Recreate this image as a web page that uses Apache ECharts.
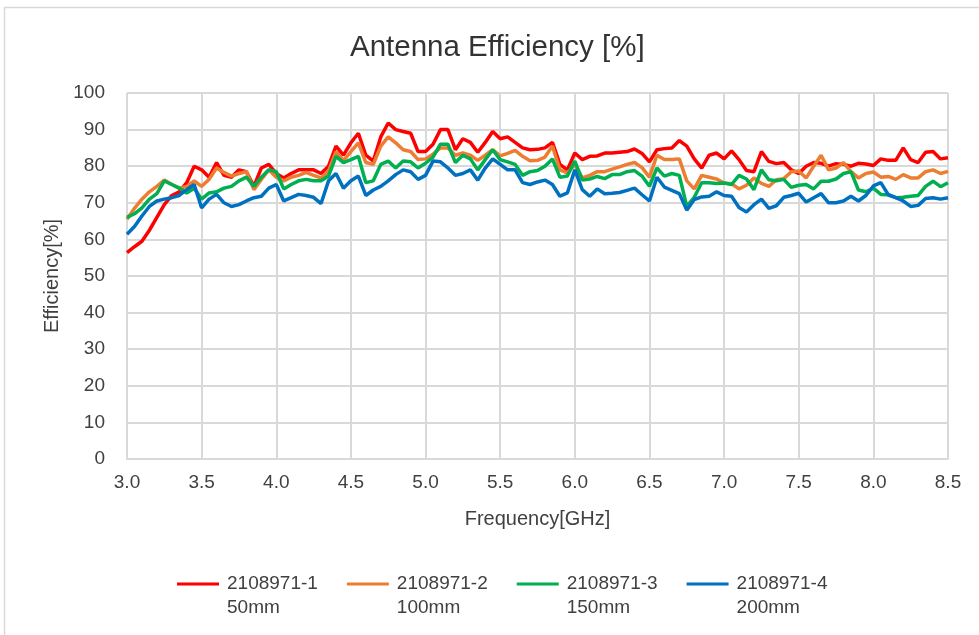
<!DOCTYPE html>
<html>
<head>
<meta charset="utf-8">
<script src="https://cdn.jsdelivr.net/npm/echarts@6/dist/echarts.min.js"></script>
<style>
  html, body { margin: 0; padding: 0; background: #fff; }
  #chart { width: 979px; height: 635px; }
</style>
</head>
<body>
<div id="chart"></div>
<script>
// frequency grid [GHz]
const freq = [
  3.00, 3.05, 3.10, 3.15, 3.20, 3.25, 3.30, 3.35, 3.40, 3.45,
  3.50, 3.55, 3.60, 3.65, 3.70, 3.75, 3.80, 3.85, 3.90, 3.95,
  4.00, 4.05, 4.10, 4.15, 4.20, 4.25, 4.30, 4.35, 4.40, 4.45,
  4.50, 4.55, 4.60, 4.65, 4.70, 4.75, 4.80, 4.85, 4.90, 4.95,
  5.00, 5.05, 5.10, 5.15, 5.20, 5.25, 5.30, 5.35, 5.40, 5.45,
  5.50, 5.55, 5.60, 5.65, 5.70, 5.75, 5.80, 5.85, 5.90, 5.95,
  6.00, 6.05, 6.10, 6.15, 6.20, 6.25, 6.30, 6.35, 6.40, 6.45,
  6.50, 6.55, 6.60, 6.65, 6.70, 6.75, 6.80, 6.85, 6.90, 6.95,
  7.00, 7.05, 7.10, 7.15, 7.20, 7.25, 7.30, 7.35, 7.40, 7.45,
  7.50, 7.55, 7.60, 7.65, 7.70, 7.75, 7.80, 7.85, 7.90, 7.95,
  8.00, 8.05, 8.10, 8.15, 8.20, 8.25, 8.30, 8.35, 8.40, 8.45,
  8.50
];

// efficiency [%], one array per sample
const eff50 = [
  56.4, 58, 59.5, 62.5, 66, 69.5, 72, 73, 75.5, 80,
  79, 77, 81, 77.5, 77, 79, 78.5, 74.5, 79.5, 80.5,
  78, 76.8, 78, 79, 79, 79, 78, 80, 85.5, 83,
  86.4, 89, 83, 81.4, 88, 91.8, 90, 89.5, 89, 84,
  84, 86, 90, 90, 84.5, 87.5, 86.5, 83.8, 86.5, 89.5,
  87.5, 88, 86.5, 85, 84.5, 84.6, 85, 86.5, 80.5, 79,
  83.6, 81.8, 82.7, 82.8, 83.6, 83.6, 83.8, 84, 84.7, 83.5,
  81.2, 84.5, 84.8, 85, 87, 85.5, 82, 79.5, 83, 83.6,
  82, 84.2, 81.8, 78.8, 78.5, 84, 81.3, 80.7, 81, 79,
  78, 80, 81, 80.8, 80, 80.7, 80.5, 80, 80.8, 80.6,
  80.2, 82, 81.6, 81.6, 85, 81.8, 81, 83.8, 84, 82,
  82.3
];
const eff100 = [
  65.5, 68.5, 71, 73, 74.5, 76.2, 75, 74, 74.5, 76,
  74.5, 76.4, 79.5, 78.3, 77.3, 78, 78.5, 73.6, 76.4, 79,
  77, 76, 77, 77.5, 78.3, 77.5, 76.8, 78.6, 84, 81.5,
  84, 86.4, 81, 80.5, 85.5, 88, 86.4, 84.5, 84, 81.8,
  82, 83.3, 85, 85, 83, 83.6, 83, 81.6, 83, 84.5,
  82.8, 83.5, 84.3, 82.7, 81.5, 81.6, 82.5, 85.5, 79, 78.2,
  80.5, 76.8, 77.5, 78.5, 78.5, 79.2, 79.8, 80.5, 81, 79.6,
  77, 83, 81.8, 81.8, 82, 76, 73.8, 77.5, 77, 76.5,
  75.4, 75.2, 73.8, 74.8, 76.8, 75.3, 74.5, 76.3, 76.6, 78.5,
  78.7, 76.8, 80, 83, 79, 79.5, 81, 78.5, 76.8, 78,
  78.4, 77, 77.2, 76.4, 77.7, 76.8, 76.8, 78.5, 79, 78,
  78.6
];
const eff150 = [
  66, 67, 68.6, 71, 72.5, 76, 75, 74, 72.7, 74,
  71, 72.7, 73, 74, 74.5, 76, 77, 74.5, 77, 79,
  78.5, 73.8, 75, 76, 76.4, 76, 76, 77.3, 82.7, 81,
  81.8, 82.7, 75.5, 76, 80.5, 81.4, 79.5, 81.4, 81.2, 79.5,
  80.8, 82.5, 86, 86, 81, 83, 82, 79, 81.8, 84.5,
  81.8, 81.2, 80.5, 77.5, 78.5, 78.8, 80, 82, 77, 77.3,
  81.4, 76.2, 76.5, 77.2, 76.6, 77.7, 77.7, 78.5, 78.8, 77.3,
  74.5, 79.5, 77.3, 78, 77.5, 69, 71.5, 75.5, 75.5, 75.3,
  75.4, 75, 77.5, 76.5, 73.6, 79, 76.3, 76, 76.4, 74.2,
  74.8, 75, 73.8, 75.9, 75.9, 76.5, 78, 78.5, 73.5, 73,
  74, 72.3, 72.2, 71.4, 71.5, 71.8, 72, 74.5, 75.9, 74.4,
  75.5
];
const eff200 = [
  61.4, 63.5, 66.4, 69, 70.5, 71, 71.4, 72, 73.6, 75,
  68.6, 71, 72.3, 70, 69, 69.5, 70.5, 71.4, 71.8, 74,
  75, 70.5, 71.4, 72.3, 72, 71.5, 69.8, 76, 78, 74,
  76, 77.3, 72, 73.5, 74.5, 76, 77.7, 79, 78.5, 76.4,
  77.5, 81.4, 81.2, 79.5, 77.5, 78, 79, 76.2, 79.5, 82,
  80.5, 79, 79, 75.5, 75, 75.7, 76.2, 75, 71.8, 72.7,
  79, 73.6, 71.8, 73.8, 72.5, 72.6, 72.8, 73.4, 74, 72.2,
  70.5, 77, 74.3, 73.4, 72.5, 68, 70.9, 71.6, 71.8, 73,
  72, 71.8, 68.7, 67.5, 69.5, 71, 68.5, 69.2, 71.5, 72,
  72.6, 70.2, 71.4, 72.5, 70, 70, 70.5, 71.8, 70.5, 72,
  74.6, 75.5, 72.2, 71.4, 70.5, 69, 69.3, 71.2, 71.4, 71,
  71.4
];

const sampleNames = ['2108971-1', '2108971-2', '2108971-3', '2108971-4'];
const sampleLengths = ['50mm', '100mm', '150mm', '200mm'];
const sampleData = [eff50, eff100, eff150, eff200];
const colors = ['#FF0000', '#ED7D31', '#00B050', '#0070C0'];

const FONT = 'Liberation Sans';
const TEXT = '#404040';

const chart = echarts.init(document.getElementById('chart'));

const series = sampleNames.map((name, i) => ({
    name: name,
    type: 'line',
    data: freq.map((f, j) => [f, sampleData[i][j]]),
    showSymbol: false,
    symbol: 'none',
    lineStyle: {width: 3.5, color: colors[i]},
    itemStyle: {color: colors[i]}
}));

chart.setOption({
    animation: false,
    backgroundColor: '#fff',
    title: {
        text: 'Antenna Efficiency [%]',
        left: 350,
        top: 33,
        padding: 0,
        textStyle: {fontFamily: FONT, fontSize: 29.5, fontWeight: 'normal', color: '#333'}
    },
    graphic: [{
        type: 'rect',
        z: -10,
        shape: {x: 4.5, y: 7.5, width: 990, height: 700},
        style: {fill: 'none', stroke: '#D9D9D9', lineWidth: 1.5}
    }],
    grid: {left: 127, right: 31, top: 93, bottom: 176},
    xAxis: {
        type: 'value',
        min: 3,
        max: 8.5,
        interval: 0.5,
        name: 'Frequency[GHz]',
        nameLocation: 'middle',
        nameGap: 50,
        nameTextStyle: {fontFamily: FONT, fontSize: 20, color: TEXT},
        axisLine: {show: true, lineStyle: {color: '#D9D9D9', width: 2}},
        axisTick: {show: false},
        axisLabel: {
            margin: 14,
            fontFamily: FONT, fontSize: 19, color: TEXT,
            formatter: v => v.toFixed(1)
        },
        splitLine: {show: true, lineStyle: {color: '#D9D9D9', width: 2}}
    },
    yAxis: {
        type: 'value',
        min: 0,
        max: 100,
        interval: 10,
        name: 'Efficiency[%]',
        nameLocation: 'middle',
        nameGap: 64,
        nameTextStyle: {fontFamily: FONT, fontSize: 20, color: TEXT},
        axisLine: {show: false},
        axisTick: {show: false},
        axisLabel: {margin: 22, fontFamily: FONT, fontSize: 19, color: TEXT},
        splitLine: {show: true, lineStyle: {color: '#D9D9D9', width: 2}}
    },
    legend: {
        left: 172,
        top: 543,
        itemWidth: 42,
        itemHeight: 3,
        itemGap: 29,
        icon: 'rect',
        formatter: name => '\n' + name + '\n' + sampleLengths[sampleNames.indexOf(name)],
        textStyle: {fontFamily: FONT, fontSize: 19, lineHeight: 24, color: TEXT, padding: [0, 0, 0, 3]}
    },
    series: series
});
</script>
</body>
</html>
